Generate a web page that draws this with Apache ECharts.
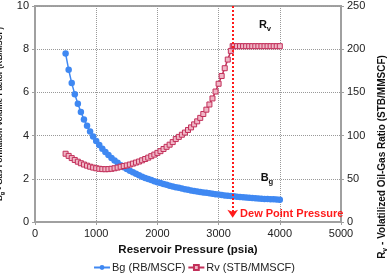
<!DOCTYPE html>
<html>
<head>
<meta charset="UTF-8">
<title>Bg and Rv vs Reservoir Pressure</title>
<script src="https://cdn.jsdelivr.net/npm/echarts@6/dist/echarts.min.js"></script>
</head>
<body style="margin:0;">
<div id="container" style="width:388px;height:277px;"></div>
<script>
var pressure = [500, 550, 600, 650, 700, 750, 800, 850, 900, 950,
  1000, 1050, 1100, 1150, 1200, 1250, 1300, 1350, 1400, 1450,
  1500, 1550, 1600, 1650, 1700, 1750, 1800, 1850, 1900, 1950,
  2000, 2050, 2100, 2150, 2200, 2250, 2300, 2350, 2400, 2450,
  2500, 2550, 2600, 2650, 2700, 2750, 2800, 2850, 2900, 2950,
  3000, 3050, 3100, 3150, 3200, 3250, 3300, 3350, 3400, 3450,
  3500, 3550, 3600, 3650, 3700, 3750, 3800, 3850, 3900, 3950, 4000];

// Bg (RB/MSCF)
var bgValues = [7.80, 7.05, 6.43, 5.92, 5.47, 5.09, 4.75, 4.46, 4.19, 3.96,
  3.75, 3.56, 3.39, 3.24, 3.10, 2.96, 2.85, 2.74, 2.63, 2.54,
  2.45, 2.37, 2.30, 2.23, 2.16, 2.10, 2.04, 1.99, 1.94, 1.89,
  1.84, 1.80, 1.76, 1.72, 1.68, 1.64, 1.61, 1.58, 1.55, 1.52,
  1.49, 1.46, 1.44, 1.41, 1.39, 1.37, 1.35, 1.33, 1.31, 1.29,
  1.27, 1.25, 1.23, 1.22, 1.20, 1.19, 1.17, 1.16, 1.15, 1.13,
  1.12, 1.11, 1.10, 1.09, 1.08, 1.07, 1.06, 1.05, 1.05, 1.04, 1.03];

// Rv (STB/MMSCF)
var rvPressure = [500, 550, 600, 650, 700, 750, 800, 850, 900, 950,
  1000, 1050, 1100, 1150, 1200, 1250, 1300, 1350, 1400, 1450,
  1500, 1550, 1600, 1650, 1700, 1750, 1800, 1850, 1900, 1950,
  2000, 2050, 2100, 2150, 2200, 2250, 2300, 2350, 2400, 2450,
  2500, 2550, 2600, 2650, 2700, 2750, 2800, 2850, 2900, 2950,
  3000, 3050, 3100, 3150, 3200, 3230, 3250, 3300, 3350, 3400, 3450,
  3500, 3550, 3600, 3650, 3700, 3750, 3800, 3850, 3900, 3950, 4000];
var rvValues = [79, 76.5, 74, 71.8, 69.8, 68, 66.5, 65.2, 64, 63,
  62.2, 61.6, 61.2, 61.1, 61.2, 61.6, 62.2, 63, 64, 64.8,
  65.5, 66.5, 67.6, 68.8, 70, 71.4, 72.9, 74.5, 76.2, 78,
  80, 82, 84.5, 87, 89.5, 92.5, 96, 98.5, 101, 103.5,
  106.5, 109.5, 113, 116.5, 120.5, 125, 130, 136, 143, 151,
  160, 169, 178, 188, 198, 203.5, 203.5, 203.5, 203.5, 203.5, 203.5,
  203.5, 203.5, 203.5, 203.5, 203.5, 203.5, 203.5, 203.5, 203.5, 203.5, 203.5];

var dewPoint = 3230;

var font = 'Liberation Sans';
var myChart = echarts.init(document.getElementById('container'));

function zip(xs, ys) {
  return xs.map(function (x, i) { return [x, ys[i]]; });
}
function plain(v) { return String(v); }

function subRich(size) {
  return {
    b: { fontFamily: font, fontWeight: 'bold', fontSize: size, color: '#111', lineHeight: size + 4, verticalAlign: 'middle' },
    s: { fontFamily: font, fontWeight: 'bold', fontSize: size * 0.7, color: '#111', lineHeight: size + 4, verticalAlign: 'bottom' }
  };
}

var option = {
  animation: false,
  textStyle: { fontFamily: font },
  grid: {
    left: 35, right: 47, top: 6, bottom: 55,
    containLabel: false,
    outerBoundsMode: 'none',
    show: true, borderColor: '#a0a0a0', borderWidth: 2
  },
  legend: {
    bottom: -1,
    left: 'center',
    itemGap: 2,
    itemWidth: 16,
    itemHeight: 6,
    textStyle: { fontFamily: font, fontSize: 11, color: '#222', padding: [0, 0, 0, -3] },
    data: ['Bg (RB/MSCF)', 'Rv (STB/MMSCF)']
  },
  xAxis: {
    type: 'value',
    min: 0, max: 5000, interval: 1000,
    name: 'Reservoir Pressure (psia)',
    nameLocation: 'middle',
    nameGap: 20,
    nameTextStyle: { fontFamily: font, fontWeight: 'bold', fontSize: 11.5, color: '#111' },
    axisLine: { show: true, lineStyle: { color: '#a0a0a0', width: 2 } },
    axisTick: { show: true, length: 3, lineStyle: { color: '#a0a0a0' } },
    axisLabel: { fontFamily: font, fontSize: 11, color: '#222', margin: 6, formatter: plain },
    splitLine: { show: true, lineStyle: { color: '#999', type: 'dotted', width: 1 } }
  },
  yAxis: [
    {
      type: 'value',
      min: 0, max: 10, interval: 2,
      name: '{b|B}{s|g}{b| - Gas Formation Volume Factor (RB/MSCF)}',
      nameLocation: 'middle',
      nameRotate: 90,
      nameGap: 24,
      nameTextStyle: { rich: subRich(8), padding: [0, 0, 0, 0] },
      axisLine: { show: true, lineStyle: { color: '#a0a0a0', width: 2 } },
      axisTick: { show: true, length: 3, lineStyle: { color: '#a0a0a0' } },
      axisLabel: { fontFamily: font, fontSize: 11, color: '#222', margin: 6, formatter: plain },
      splitLine: { show: true, lineStyle: { color: '#999', type: 'dotted', width: 1 } }
    },
    {
      type: 'value',
      min: 0, max: 250, interval: 50,
      position: 'right',
      name: '{b|R}{s|v}{b| - Volatilized Oil-Gas Ratio (STB/MMSCF)}',
      nameLocation: 'middle',
      nameRotate: 90,
      nameGap: 34,
      nameTextStyle: { rich: subRich(10), padding: [0, 86, 0, 0] },
      axisLine: { show: true, lineStyle: { color: '#a0a0a0', width: 2 } },
      axisTick: { show: true, length: 3, lineStyle: { color: '#a0a0a0' } },
      axisLabel: { fontFamily: font, fontSize: 11, color: '#222', margin: 6, formatter: plain },
      splitLine: { show: false }
    }
  ],
  series: [
    {
      name: 'Bg (RB/MSCF)',
      type: 'line',
      yAxisIndex: 0,
      data: zip(pressure, bgValues),
      symbol: 'circle',
      symbolSize: 6.5,
      itemStyle: { color: '#3f88f2' },
      lineStyle: { color: '#3f88f2', width: 1.5 },
      markLine: {
        silent: true,
        symbol: ['none', 'arrow'],
        symbolSize: [8, 8],
        label: { show: false },
        lineStyle: { color: '#ff1a1a', type: 'dotted', width: 2 },
        data: [[{ coord: [dewPoint, 10] }, { coord: [dewPoint, 0.2] }]]
      },
      markPoint: {
        silent: true,
        symbolSize: 0,
        data: [
          {
            coord: [4195, 0.37],
            label: { show: true, position: 'inside', formatter: 'Dew Point Pressure',
              fontFamily: font, fontWeight: 'bold', fontSize: 11, color: '#ff1a1a' }
          },
          {
            coord: [3790, 2.03],
            label: { show: true, position: 'inside', formatter: '{b|B}{s|g}', rich: subRich(11) }
          },
          {
            coord: [3758, 9.1],
            label: { show: true, position: 'inside', formatter: '{b|R}{s|v}', rich: subRich(11) }
          }
        ]
      }
    },
    {
      name: 'Rv (STB/MMSCF)',
      type: 'line',
      yAxisIndex: 1,
      data: zip(rvPressure, rvValues),
      symbol: 'rect',
      symbolSize: 5,
      itemStyle: { color: '#f0b6c6', borderColor: '#c2305a', borderWidth: 1 },
      lineStyle: { color: '#c2305a', width: 1.5 }
    }
  ]
};

myChart.setOption(option);
</script>
</body>
</html>
